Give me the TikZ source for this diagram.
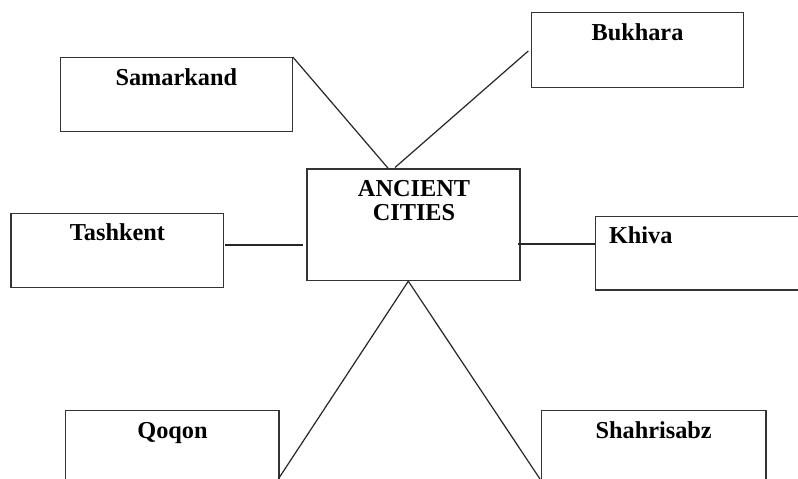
\documentclass[tikz,border=0pt]{standalone}
\usepackage{fontspec}
\setmainfont{Liberation Serif}
\usetikzlibrary{calc}
\tikzset{
  cbox/.style={draw=black!80, line width=1.2pt, rectangle, inner sep=0pt, minimum width=#1},
  cbox/.default=212pt,
  clabel/.style={anchor=base, inner sep=0pt, font=\fontsize{24.3}{23.3}\selectfont\bfseries},
  link/.style={draw=black!85, line width=1.2pt}
}
\begin{document}
\begin{tikzpicture}[x=1pt, y=-1pt]
\useasboundingbox (0,0) rectangle (798,479);
\clip (0,0) rectangle (798,479);
\fill[white] (0,0) rectangle (798,479);
% boxes
\node[cbox=231.6pt, minimum height=74pt] (sam) at (176.5,94.7) {};
\node[cbox=211.6pt, minimum height=75pt] (buk) at (637.5,50.2) {};
\node[cbox=213pt, minimum height=111.7pt] (cen) at (413.5,224.85) {};
\node[cbox=212.3pt, minimum height=74.4pt] (tas) at (117.15,250.5) {};
\node[cbox=230pt, minimum height=73.3pt] (khi) at (710.7,253.35) {};
\node[cbox=213.3pt, minimum height=74pt] (qoq) at (172.35,447.7) {};
\node[cbox=224.3pt, minimum height=74pt] (sha) at (653.85,447.7) {};
% labels
\node[clabel] (samt) at (176.3,85) {Samarkand};
\node[clabel] (bukt) at (637.5,40.7) {Bukhara};
\node[clabel] (cen1) at (414,196.7) {ANCIENT};
\node[clabel] (cen2) at (414,220) {CITIES};
\node[clabel] (tast) at (117.5,240) {Tashkent};
\node[clabel] (khit) at (640.8,243.3) {Khiva};
\node[clabel] (qoqt) at (172.5,438.3) {Qoqon};
\node[clabel] (shat) at (653.7,438.3) {Shahrisabz};
% connector end points
\coordinate (samA) at (sam.north east);
\coordinate (samB) at (388.3,168.5);
\coordinate (bukA) at (528.3,51);
\coordinate (bukB) at (395,167.5);
\coordinate (tasA) at (225,245);
\coordinate (tasB) at (303.3,245);
\coordinate (khiA) at (517.7,244);
\coordinate (khiB) at (khi.west |- khiA);
\coordinate (apex) at (408.3,281.2);
\coordinate (qoqB) at (278.3,479);
\coordinate (shaB) at (540,479);
% connectors
\draw[link] (samA) -- (samB);
\draw[link] (bukA) -- (bukB);
\draw[link] (tasA) -- (tasB);
\draw[link] (khiA) -- (khiB);
\draw[link] (apex) -- (qoqB);
\draw[link] (apex) -- (shaB);
\end{tikzpicture}
\end{document}
